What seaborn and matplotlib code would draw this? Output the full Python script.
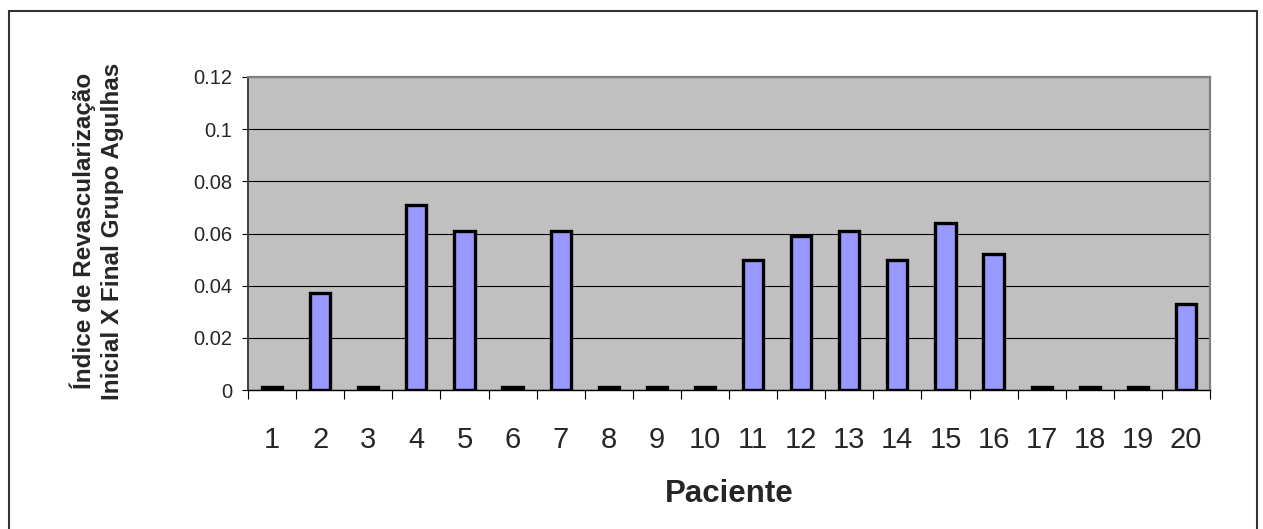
import matplotlib
matplotlib.use("Agg")
import matplotlib.pyplot as plt
from matplotlib.patches import Rectangle
from matplotlib.ticker import FixedLocator
import seaborn as sns
import pandas as pd

pacientes = [str(i) for i in range(1, 21)]
indice = [0.001, 0.037, 0.001, 0.071, 0.061, 0.001, 0.061, 0.001, 0.001, 0.001,
          0.050, 0.059, 0.061, 0.050, 0.064, 0.052, 0.001, 0.001, 0.001, 0.033]
y_ticks = [0, 0.02, 0.04, 0.06, 0.08, 0.1, 0.12]
y_tick_labels = ["0", "0.02", "0.04", "0.06", "0.08", "0.1", "0.12"]

sns.set_style("white")
plt.rcParams['font.family'] = ['Liberation Sans', 'DejaVu Sans']

df = pd.DataFrame({"Paciente": pacientes, "Indice": indice})

W, H = 1263, 529
fig = plt.figure(figsize=(W / 100, H / 100), dpi=100)
ax = fig.add_axes([248 / W, 1 - 390 / H, (1210 - 248) / W, (390 - 77) / H])
ax.set_facecolor("#C0C0C0")

sns.barplot(data=df, x="Paciente", y="Indice", color="#9999FF", saturation=1,
            edgecolor="black", linewidth=2.4, width=0.42, ax=ax, zorder=3)

ax.set_xlim(-0.5, 19.5)
ax.set_ylim(0, 0.12)
ax.set_yticks(y_ticks)
ax.set_yticklabels(y_tick_labels, fontsize=14.5)
ax.yaxis.grid(True, color="black", linewidth=0.8, zorder=1)
ax.set_axisbelow(True)

ax.tick_params(axis="x", which="major", length=0, pad=26, labelsize=21)
ax.xaxis.set_minor_locator(FixedLocator([i + 0.5 for i in range(-1, 20)]))
ax.tick_params(axis="x", which="minor", length=6.5, width=0.8, color="black", direction="out", bottom=True)
ax.tick_params(axis="y", which="major", length=4.3, width=0.8, color="black", direction="out", pad=7, left=True)

ax.set_xlabel("")
ax.set_ylabel("")

for side in ["top", "right"]:
    ax.spines[side].set_color("#808080")
    ax.spines[side].set_linewidth(1.6)
ax.spines["left"].set_color("#404040")
ax.spines["left"].set_linewidth(1.4)
ax.spines["bottom"].set_color("black")
ax.spines["bottom"].set_linewidth(1.0)

fig.text(729 / W, 1 - 494 / H, "Paciente", ha="center", va="center",
         fontsize=22.5, fontweight="bold")
fig.text(97 / W, 1 - 231 / H, "Índice de Revascularização\nInicial X Final Grupo Agulhas",
         ha="center", va="center", rotation=90, fontsize=17.5, fontweight="bold",
         multialignment="center", linespacing=1.3)

border = Rectangle((8.5 / W, -0.02), (1257 - 8.5) / W, (1 - 11 / H) + 0.02,
                   transform=fig.transFigure, fill=False, edgecolor="#333333",
                   linewidth=1.5)
fig.patches.append(border)

fig.savefig("out.png", dpi=100)
